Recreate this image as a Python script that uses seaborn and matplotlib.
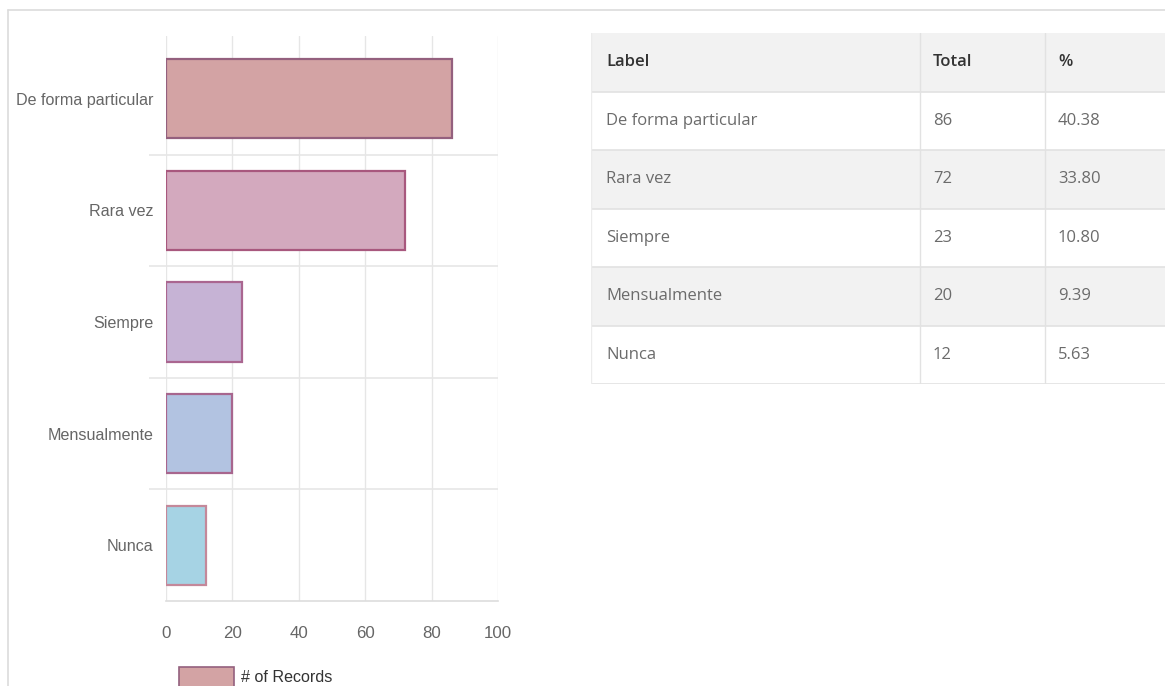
import matplotlib
matplotlib.use("Agg")
import matplotlib.pyplot as plt
from matplotlib import font_manager
from matplotlib.patches import Patch, Rectangle
from matplotlib.lines import Line2D
import seaborn as sns
import pandas as pd

# ---- data ----
categories = ["De forma particular", "Rara vez", "Siempre", "Mensualmente", "Nunca"]
totals = [86, 72, 23, 20, 12]
percents = ["40.38", "33.80", "10.80", "9.39", "5.63"]
x_ticks = [0, 20, 40, 60, 80, 100]
table_header = ["Label", "Total", "%"]
legend_label = "# of Records"

fill_colors = ["#D3A3A4", "#D3A9BE", "#C6B3D5", "#B2C3E1", "#A6D3E4"]
edge_colors = ["#94607e", "#a8587e", "#aa6690", "#a8668e", "#c4889a"]

sns.set_theme(style="white")

names = {f.name for f in font_manager.fontManager.ttflist}
chart_font = "Liberation Sans Narrow" if "Liberation Sans Narrow" in names else "Liberation Sans"
table_font = "Open Sans" if "Open Sans" in names else "DejaVu Sans"
plt.rcParams["font.family"] = [chart_font, "DejaVu Sans"]
chart_fs = 14 if chart_font == "Liberation Sans Narrow" else 11.6

W, H = 1165, 686
fig = plt.figure(figsize=(W / 100, H / 100), dpi=100)

def fx(px):
    return px / W

def fy(py):
    return 1 - py / H

# ---- bar chart ----
ax_l, ax_r, ax_t, ax_b = 166, 498, 36, 601
ax = fig.add_axes([fx(ax_l), fy(ax_b), fx(ax_r - ax_l), (ax_b - ax_t) / H])

df = pd.DataFrame({"label": categories, "total": totals})
sns.barplot(data=df, y="label", x="total", hue="label", palette=fill_colors,
            order=categories, hue_order=categories, legend=False,
            width=0.71, orient="h", ax=ax, saturation=1)
for patch, ec in zip(ax.patches, edge_colors):
    patch.set_edgecolor(ec)
    patch.set_linewidth(1.6)

ax.set_xlim(0, 100)
ax.set_ylim(len(categories) - 0.5, -0.5 - 7 / 112)
ax.set_xticks(x_ticks)
ax.set_xlabel("")
ax.set_ylabel("")

for s in ["top", "right", "left"]:
    ax.spines[s].set_visible(False)
ax.spines["bottom"].set_color("#dddddd")
ax.spines["bottom"].set_linewidth(1.2)

grid_c = "#e6e6e6"
for xv in x_ticks:
    ax.axvline(xv, color=grid_c, lw=1.0, zorder=0)
bounds = [i + 0.5 for i in range(len(categories) - 1)]
ax.set_yticks(bounds, minor=True)
ax.tick_params(axis="y", which="minor", length=12, color=grid_c, width=1.2, left=True)
for b in bounds:
    ax.axhline(b, color=grid_c, lw=1.2, zorder=0)
ax.tick_params(axis="y", which="major", length=0, pad=9, labelsize=chart_fs, labelcolor="#666666")
ax.tick_params(axis="x", which="major", length=0, pad=18, labelsize=chart_fs + 0.6, labelcolor="#666666")

handle = Patch(facecolor=fill_colors[0], edgecolor=edge_colors[0], linewidth=1.2)
leg = ax.legend([handle], [legend_label], loc="upper left",
                bbox_to_anchor=(fx(179), fy(667)), bbox_transform=fig.transFigure,
                frameon=False, handlelength=3.4, handleheight=1.5, handletextpad=0.45,
                borderpad=0, borderaxespad=0, fontsize=chart_fs, labelcolor="#333333")

# ---- table ----
t_l, t_r, t_t, t_b = 591, 1165, 33, 384
tax = fig.add_axes([fx(t_l), fy(t_b), fx(t_r - t_l), (t_b - t_t) / H])
tax.set_xlim(t_l, t_r)
nrows = len(categories) + 1
tax.set_ylim(nrows, 0)
tax.axis("off")

shade = "#f2f2f2"
line_c = "#e2e2e2"
col_x = [t_l, 920, 1045]
text_x = [606, 933, 1058]
for r in range(nrows):
    if r % 2 == 0:
        tax.add_patch(Rectangle((t_l, r), t_r - t_l, 1, facecolor=shade, edgecolor="none", zorder=0))
    tax.axhline(r + 1, color=line_c, lw=1.2, zorder=2)
for cx in col_x[1:]:
    tax.axvline(cx, color=line_c, lw=1.0, zorder=2)
tax.axvline(t_l, color="#ececec", lw=1.0, zorder=2)

for c, txt in enumerate(table_header):
    tax.text(text_x[c], 0.5, txt, ha="left", va="center", fontsize=12,
             family=[table_font, "DejaVu Sans"], fontweight="semibold", color="#333333")
for r, (lab, tot, pct) in enumerate(zip(categories, totals, percents), start=1):
    for c, txt in enumerate([lab, str(tot), pct]):
        tax.text(text_x[c], r + 0.5, txt, ha="left", va="center", fontsize=12,
                 family=[table_font, "DejaVu Sans"], color="#6b6b6b")

# ---- outer frame ----
fig.add_artist(Line2D([fx(8), 1], [fy(10), fy(10)], color="#dcdcdc", lw=1.2))
fig.add_artist(Line2D([fx(8), fx(8)], [fy(10), 0], color="#dcdcdc", lw=1.2))

fig.savefig("out.png", dpi=100)
